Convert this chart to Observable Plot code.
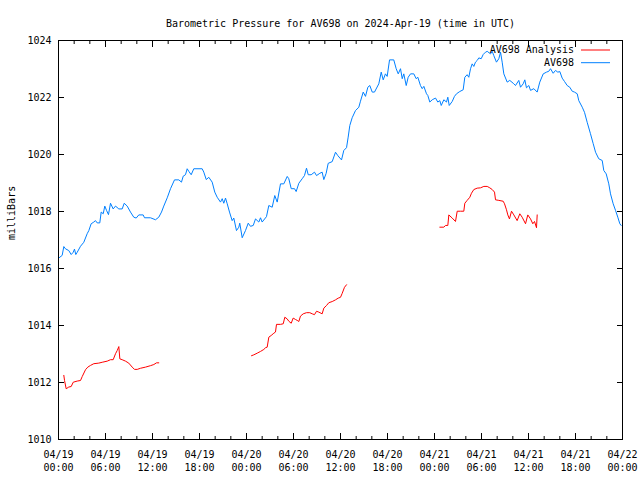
<!DOCTYPE html>
<html>
<head>
<meta charset="utf-8">
<script src="https://cdn.jsdelivr.net/npm/d3@7"></script>
<script src="https://cdn.jsdelivr.net/npm/@observablehq/plot@0.6"></script>
<style>
  html, body { margin: 0; padding: 0; background: #fff; }
</style>
</head>
<body>
<div id="chart"></div>
<script>
const titleText = "Barometric Pressure for AV698 on 2024-Apr-19 (time in UTC)";
const yLabel = "milliBars";
const seriesNames = ["AV698 Analysis", "AV698"];
const seriesColors = ["#ff0000", "#0080ff"];
const startUTC = "2024-04-19T00:00:00Z";

// x tick positions (hours after start) and y ticks
const majorTickHours = [0, 6, 12, 18, 24, 30, 36, 42, 48, 54, 60, 66, 72];
const minorTickHours = [2, 4, 8, 10, 14, 16, 20, 22, 26, 28, 32, 34, 38, 40, 44, 46, 50, 52, 56, 58, 62, 64, 68, 70];
const yTicks = [1010, 1012, 1014, 1016, 1018, 1020, 1022, 1024];

// AV698 (observed), hours after start
const blueHours = [
  0,0.47,0.68,0.89,1.31,1.62,1.88,2.04,2.21,2.39,
  2.81,3.23,3.66,3.87,4.17,4.51,4.72,4.94,5.27,5.45,
  5.71,5.91,6.13,6.38,6.64,6.98,7.28,7.70,8.13,8.39,
  8.77,9.19,9.61,9.92,10.25,10.81,10.98,11.74,12.38,12.80,
  13.15,13.44,13.88,14.30,14.81,15.36,15.70,15.92,16.21,16.43,
  16.63,16.94,17.27,18.34,18.55,18.86,19.19,19.62,19.95,20.26,
  20.68,20.90,21.10,21.32,21.54,21.83,22.17,22.38,22.72,23.02,
  23.14,23.45,23.87,24.22,24.51,
  24.86,25.15,25.57,25.79,26.00,26.55,26.85,27.28,27.61,27.92,
  28.34,28.76,29.20,29.40,29.71,30.13,30.34,30.68,31.11,31.40,
  31.66,31.88,32.26,32.68,32.94,33.36,33.66,33.87,34.17,34.43,
  34.94,35.36,35.66,36.13,36.42,36.77,36.98,37.19,37.49,37.91,
  38.34,38.55,38.90,39.19,39.49,39.74,40.05,40.34,40.89,41.20,
  41.45,41.74,41.96,42.26,42.80,43.11,43.37,43.66,43.88,44.08,
  44.39,44.64,44.94,45.36,45.66,45.87,46.21,46.43,46.64,
  46.98,47.15,47.40,47.71,48.13,48.42,48.68,48.86,49.19,49.53,
  49.70,49.88,50.26,50.55,50.81,51.23,51.66,51.87,52.17,52.38,
  52.60,52.81,53.02,53.23,53.45,53.66,53.96,54.22,54.51,54.73,
  55.15,55.37,55.57,55.91,56.21,56.43,56.64,56.85,57.28,57.61,
  58.05,58.34,58.76,58.98,59.32,59.53,59.74,60.04,60.26,60.68,
  61.11,61.44,61.88,62.30,62.59,62.81,63.15,63.45,63.74,64.00,
  64.30,64.60,64.94,65.27,65.58,65.87,66.22,66.42,66.86,67.15,
  67.49,67.91,68.26,68.56,68.97,69.41,69.61,69.92,70.25,70.47,
  70.81,71.11,71.40,71.66,71.83
];
const blueValues = [
  1016.36,1016.46,1016.77,1016.69,1016.63,1016.49,1016.57,1016.68,1016.49,1016.57,
  1016.78,1016.92,1017.22,1017.33,1017.57,1017.63,1017.68,1017.60,1017.60,1017.98,
  1017.92,1018.19,1018.04,1017.89,1018.29,1018.09,1018.19,1018.09,1018.09,1018.29,
  1018.19,1017.98,1017.80,1017.77,1017.88,1017.88,1017.78,1017.78,1017.71,1017.80,
  1017.98,1018.19,1018.48,1018.80,1019.11,1019.11,1019.03,1019.24,1019.29,1019.50,
  1019.41,1019.29,1019.50,1019.50,1019.38,1019.12,1019.20,1019.03,1018.68,1018.50,
  1018.33,1018.45,1018.29,1018.47,1018.27,1017.98,1017.68,1017.77,1017.33,1017.45,
  1017.59,1017.08,1017.33,1017.59,1017.48,
  1017.51,1017.74,1017.63,1017.78,1017.63,1017.82,1018.21,1018.15,1018.56,1018.33,
  1018.97,1018.97,1019.23,1019.15,1018.80,1018.80,1018.70,1018.99,1019.15,1019.26,
  1019.52,1019.29,1019.29,1019.38,1019.26,1019.34,1019.38,1019.12,1019.34,1019.69,
  1019.75,1020.08,1019.96,1019.81,1020.14,1020.24,1020.61,1021.02,1021.29,1021.54,
  1021.66,1021.87,1022.19,1022.04,1022.36,1022.42,1022.19,1022.19,1022.48,1022.89,
  1022.62,1022.83,1022.74,1023.32,1023.32,1023.01,1022.83,1023.01,1022.66,1022.83,
  1022.42,1022.71,1022.83,1022.83,1022.66,1022.71,1022.42,1022.31,1022.39,
  1022.13,1022.07,1021.84,1021.92,1021.98,1021.84,1021.89,1021.72,1021.92,1021.84,
  1022.01,1021.72,1021.86,1022.04,1022.13,1022.21,1022.27,1022.71,1022.80,1022.71,
  1023.01,1023.18,1023.09,1023.24,1023.30,1023.39,1023.36,1023.51,1023.59,1023.62,
  1023.53,1023.62,1023.47,1023.24,1023.36,1023.59,1023.24,1022.83,1022.54,1022.60,
  1022.50,1022.42,1022.60,1022.36,1022.48,1022.62,1022.34,1022.42,1022.25,1022.31,
  1022.19,1022.54,1022.83,1022.89,1022.92,1023.01,1022.85,1022.95,1022.89,1022.91,
  1022.68,1022.56,1022.42,1022.36,1022.22,1022.19,1022.13,1021.89,1021.66,1021.48,
  1021.13,1020.73,1020.38,1020.08,1019.85,1019.79,1019.44,1019.32,1018.97,1018.62,
  1018.27,1018.04,1017.80,1017.57,1017.51
];

// AV698 Analysis, hours after start (null = gap)
const redHours = [
  0.68,0.77,0.98,1.31,1.62,1.88,2.39,2.81,3.03,3.45,
  3.74,4.09,4.51,5.14,5.58,6.22,6.64,6.98,7.28,7.49,
  7.70,7.83,8.13,8.55,8.97,9.41,9.70,10.05,10.47,11.11,
  11.74,12.17,12.51,12.80,
  null,
  24.64,24.93,25.37,25.79,26.21,26.43,26.64,26.85,27.15,27.49,
  27.70,27.83,28.34,28.69,28.89,29.20,29.40,29.71,29.96,30.26,
  30.47,30.68,30.89,31.24,31.66,32.08,32.39,32.68,32.94,33.23,
  33.66,33.87,34.21,34.51,34.94,35.36,35.71,36.00,36.22,36.51,
  36.77,
  null,
  48.68,49.19,49.40,49.70,49.83,50.26,50.68,50.90,51.32,51.74,
  51.87,52.17,52.51,52.72,53.02,53.45,53.87,54.30,54.73,55.06,
  55.37,55.66,55.79,56.21,56.77,56.94,57.19,57.36,57.57,57.83,
  58.13,58.55,58.89,59.19,59.62,59.91,60.26,60.55,60.77,61.02,
  61.11
];
const redValues = [
  1012.25,1012.07,1011.78,1011.84,1011.86,1012.01,1012.05,1012.07,1012.21,1012.45,
  1012.54,1012.60,1012.66,1012.68,1012.71,1012.75,1012.80,1012.80,1013.01,1013.12,
  1013.26,1012.83,1012.80,1012.75,1012.68,1012.54,1012.46,1012.46,1012.50,1012.54,
  1012.59,1012.63,1012.69,1012.69,
  null,
  1012.94,1012.97,1013.03,1013.09,1013.16,1013.22,1013.24,1013.59,1013.65,1013.73,
  1013.77,1014.04,1014.04,1014.06,1014.29,1014.23,1014.15,1014.08,1014.26,1014.21,
  1014.18,1014.14,1014.33,1014.41,1014.45,1014.45,1014.41,1014.38,1014.50,1014.47,
  1014.41,1014.61,1014.70,1014.80,1014.84,1014.90,1014.96,1014.99,1015.13,1015.34,
  1015.43,
  null,
  1017.45,1017.45,1017.51,1017.51,1017.88,1017.77,1017.65,1018.01,1018.01,1018.01,
  1018.29,1018.39,1018.50,1018.64,1018.77,1018.82,1018.83,1018.88,1018.88,1018.83,
  1018.77,1018.68,1018.41,1018.39,1018.36,1018.27,1018.06,1017.88,1017.74,1018.01,
  1017.88,1017.68,1017.92,1017.80,1017.57,1017.88,1017.74,1017.57,1017.65,1017.43,
  1017.88
];

const t0 = new Date(startUTC).getTime();
const toDate = h => (h == null ? null : new Date(t0 + h * 3600e3));
const blue = blueHours.map((h, i) => ({t: toDate(h), v: blueValues[i]}));
const red = redHours.map((h, i) => ({t: toDate(h), v: redValues[i]}));
const majorTicks = majorTickHours.map(toDate);
const minorTicks = minorTickHours.map(toDate);
const fmt = d3.utcFormat("%m/%d\n%H:%M");

const font = "'DejaVu Sans Mono', 'Liberation Mono', monospace";

const svg = Plot.plot({
  width: 640,
  height: 480,
  marginTop: 40,
  marginLeft: 58,
  marginRight: 18,
  marginBottom: 41,
  style: {fontFamily: font, fontSize: "10px", background: "#fff", color: "#000", overflow: "visible"},
  x: {type: "utc", domain: [toDate(0), toDate(72)], label: null},
  y: {domain: [1010, 1024], label: null},
  marks: [
    Plot.axisX(majorTicks, {anchor: "bottom", tickSize: -6, tickPadding: 15, tickFormat: fmt, lineHeight: 1.3, label: null}),
    Plot.axisX(minorTicks, {anchor: "bottom", tickSize: -3, fill: "none", label: null}),
    Plot.axisX(majorTicks, {anchor: "top", tickSize: -6, fill: "none", label: null}),
    Plot.axisX(minorTicks, {anchor: "top", tickSize: -3, fill: "none", label: null}),
    Plot.axisY(yTicks, {anchor: "left", tickSize: -6, tickPadding: 13, tickFormat: d => String(d), label: null}),
    Plot.axisY(yTicks, {anchor: "right", tickSize: -6, fill: "none", label: null}),
    Plot.line(blue, {x: "t", y: "v", stroke: seriesColors[1], strokeWidth: 1}),
    Plot.line(red, {x: "t", y: "v", stroke: seriesColors[0], strokeWidth: 1}),
    Plot.frame({stroke: "#000", strokeWidth: 1}),
    Plot.text([titleText], {frameAnchor: "top", dy: -21, fontSize: 10}),
    Plot.text([yLabel], {frameAnchor: "left", rotate: -90, dx: -47, fontSize: 10})
  ]
});

// legend (top-right, inside the frame)
const sel = d3.select(svg);
const legend = sel.append("g").attr("font-family", font).attr("font-size", 10);
seriesNames.forEach((name, i) => {
  const y = 50 + i * 12.7;
  legend.append("text").attr("x", 574).attr("y", y).attr("dy", "0.32em")
    .attr("text-anchor", "end").attr("fill", "#000").text(name);
  legend.append("line").attr("x1", 581).attr("x2", 610).attr("y1", y).attr("y2", y)
    .attr("stroke", seriesColors[i]).attr("stroke-width", 1);
});

document.getElementById("chart").appendChild(svg);
</script>
</body>
</html>
